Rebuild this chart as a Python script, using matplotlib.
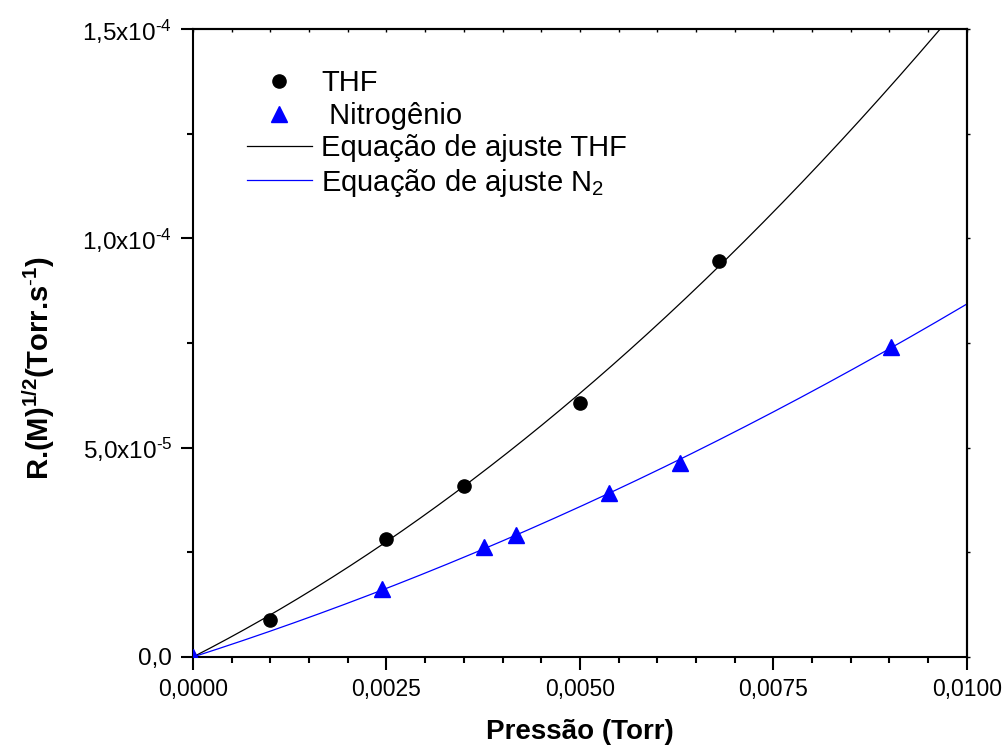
import numpy as np
import matplotlib
matplotlib.use("Agg")
import matplotlib.pyplot as plt
from matplotlib.ticker import FixedLocator, MultipleLocator, NullFormatter

plt.rcParams['font.family'] = ['Liberation Sans', 'DejaVu Sans']
plt.rcParams['mathtext.fontset'] = 'custom'
plt.rcParams['mathtext.rm'] = 'Liberation Sans'
plt.rcParams['mathtext.it'] = 'Liberation Sans'
plt.rcParams['mathtext.bf'] = 'Liberation Sans:bold'

# ---- data ----
thf_p = [0.0010, 0.0025, 0.0035, 0.0050, 0.0068]
thf_r = [8.8e-6, 2.82e-5, 4.08e-5, 6.07e-5, 9.46e-5]

n2_p = [0.0, 0.00244, 0.00376, 0.00417, 0.00538, 0.00629, 0.00902]
n2_r = [0.0, 1.62e-5, 2.62e-5, 2.91e-5, 3.91e-5, 4.63e-5, 7.41e-5]

# fitted equations  y = a*x + b*x^2 (coefficients)
thf_fit_a, thf_fit_b = 9.44e-3, 0.631
n2_fit_a, n2_fit_b = 5.93e-3, 0.250

xticks = [0.0, 0.0025, 0.0050, 0.0075, 0.0100]
xticklabels = ['0,0000', '0,0025', '0,0050', '0,0075', '0,0100']
yticks = [0.0, 5.0e-5, 1.0e-4, 1.5e-4]
yticklabels = ['0,0', r'5,0x10$^{\text{-}5}$', r'1,0x10$^{\text{-}4}$', r'1,5x10$^{\text{-}4}$']

fig = plt.figure(figsize=(10.05, 7.47), dpi=100)
ax = fig.add_axes([0.192, 0.1205, 0.7700, 0.8407])

xf = np.linspace(0, 0.0100, 400)
l1, = ax.plot(xf, thf_fit_a * xf + thf_fit_b * xf ** 2, color='black', lw=0.9, zorder=2)
l2, = ax.plot(xf, n2_fit_a * xf + n2_fit_b * xf ** 2, color='#0000FF', lw=0.9, zorder=2)
h1, = ax.plot(thf_p, thf_r, 'o', color='black', ms=9.5, ls='none', zorder=3)
h2, = ax.plot(n2_p, n2_r, '^', color='#0000FF', ms=12, ls='none', zorder=3)

ax.set_xlim(0, 0.0100)
ax.set_ylim(0, 1.5e-4)

ax.xaxis.set_major_locator(FixedLocator(xticks))
ax.set_xticklabels(xticklabels)
ax.xaxis.set_minor_locator(MultipleLocator(0.0005))
ax.yaxis.set_major_locator(FixedLocator(yticks))
ax.set_yticklabels(yticklabels)
ax.yaxis.set_minor_locator(MultipleLocator(2.5e-5))

ax.tick_params(axis='both', which='major', direction='out', length=9, width=1.5, pad=6)
ax.tick_params(axis='x', which='major', labelsize=16.5)
ax.tick_params(axis='y', which='major', labelsize=17.5)
ax.tick_params(axis='both', which='minor', direction='out', length=4.5, width=1.5)
for sp in ax.spines.values():
    sp.set_linewidth(1.5)

# tiny ticks on top and right
secx = ax.secondary_xaxis('top')
secx.xaxis.set_major_locator(FixedLocator(xticks))
secx.xaxis.set_minor_locator(MultipleLocator(0.0005))
secx.xaxis.set_major_formatter(NullFormatter())
secx.tick_params(which='both', direction='in', length=2, width=1)
secx.spines['top'].set_linewidth(1.5)
secy = ax.secondary_yaxis('right')
secy.yaxis.set_major_locator(FixedLocator(yticks))
secy.yaxis.set_minor_locator(MultipleLocator(2.5e-5))
secy.yaxis.set_major_formatter(NullFormatter())
secy.tick_params(which='both', direction='out', length=2, width=1)
secy.spines['right'].set_linewidth(1.5)

ax.set_xlabel('Pressão (Torr)', fontsize=20, fontweight='bold')
ax.xaxis.set_label_coords(0.5, -0.099)
ax.set_ylabel(r'R.(M)$^{\mathbf{1/2}}$(Torr.s$^{\mathbf{\text{-}1}}$)', fontsize=21,
              fontweight='bold')
ax.yaxis.set_label_coords(-0.176, 0.46)

handles = [h1, h2, l1, l2]
labels = ['THF', ' Nitrogênio', 'Equação de ajuste THF', r'Equação de ajuste N$_2$']
leg = ax.legend(handles, labels, loc='upper left', bbox_to_anchor=(0.043, 0.968),
                frameon=False, fontsize=21, handlelength=2.25, handletextpad=0.3,
                labelspacing=0.15, borderpad=0.2)

fig.savefig('out.png', dpi=100)
